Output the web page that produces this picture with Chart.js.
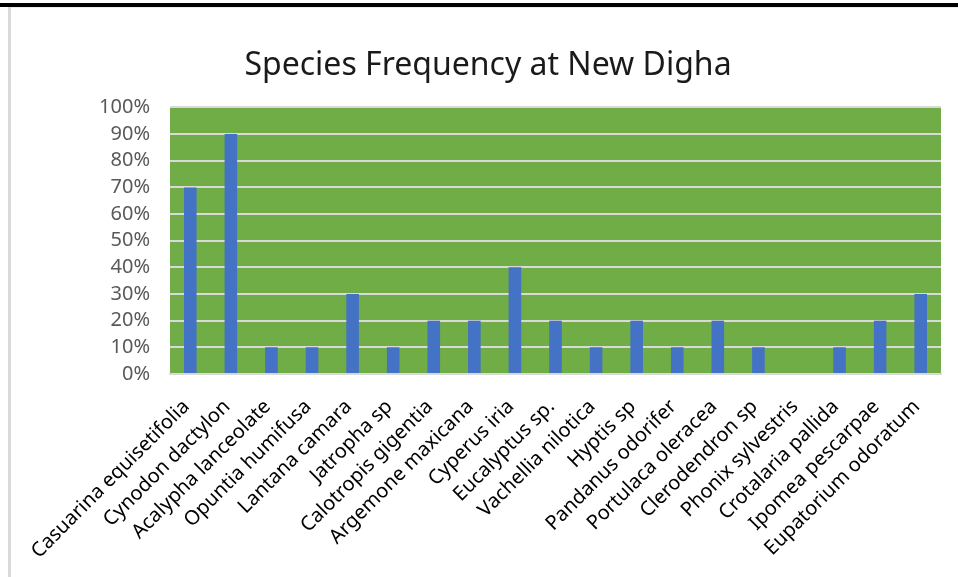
<!DOCTYPE html>
<html>
<head>
<meta charset="utf-8">
<script src="https://cdn.jsdelivr.net/npm/chart.js@4"></script>
<style>
  html, body { margin: 0; padding: 0; background: #ffffff; }
  #wrap { position: relative; width: 958px; height: 577px; }
  canvas { display: block; }
</style>
</head>
<body>
<div id="wrap"><canvas id="chart" width="958" height="577"></canvas></div>
<script>
// Species recorded at New Digha and their frequency (%)
const species = [
  'Casuarina equisetifolia', 'Cynodon dactylon', 'Acalypha lanceolate',
  'Opuntia humifusa', 'Lantana camara', 'Jatropha sp', 'Calotropis gigentia',
  'Argemone maxicana', 'Cyperus iria', 'Eucalyptus sp.', 'Vachellia nilotica',
  'Hyptis sp', 'Pandanus odorifer', 'Portulaca oleracea', 'Clerodendron sp',
  'Phonix sylvestris', 'Crotalaria pallida', 'Ipomea pescarpae', 'Eupatorium odoratum'
];
const frequency = [70, 90, 10, 10, 30, 10, 20, 20, 40, 20, 10, 20, 10, 20, 10, 0, 10, 20, 30];
const yTicks = [0, 10, 20, 30, 40, 50, 60, 70, 80, 90, 100];

const FONT = "'Noto Sans', 'Open Sans', sans-serif";

// Page frame lines and the green plot background
const framePlugin = {
  id: 'frame',
  beforeDraw(chart) {
    const { ctx, chartArea: a } = chart;
    ctx.save();
    ctx.fillStyle = '#000000';
    ctx.fillRect(0, 3, 958, 4);
    ctx.fillStyle = '#d9d9d9';
    ctx.fillRect(8, 7, 3, 570);
    ctx.fillStyle = '#ececec';
    ctx.fillRect(11, 7, 947, 1);
    ctx.fillStyle = '#70ad47';
    ctx.fillRect(a.left, a.top, a.right - a.left, a.bottom - a.top);
    ctx.restore();
  }
};

new Chart(document.getElementById('chart'), {
  type: 'bar',
  data: {
    labels: species,
    datasets: [{
      label: 'Frequency',
      data: frequency,
      backgroundColor: '#4472c4',
      borderWidth: 0,
      categoryPercentage: 1,
      barPercentage: 0.31
    }]
  },
  options: {
    responsive: false,
    animation: false,
    devicePixelRatio: 1,
    layout: { padding: { left: 35, right: 17, top: 0, bottom: 0 } },
    plugins: {
      legend: { display: false },
      tooltip: { enabled: false },
      title: {
        display: true,
        text: 'Species Frequency at New Digha',
        color: '#1a1a1a',
        font: { family: FONT, size: 32, weight: 'normal' },
        padding: { top: 47, bottom: 22 }
      }
    },
    scales: {
      x: {
        grid: { display: false, drawTicks: false },
        border: { display: true, color: '#d9d9d9', width: 2 },
        ticks: {
          color: '#000000',
          font: { family: FONT, size: 20 },
          minRotation: 45,
          maxRotation: 45,
          autoSkip: false,
          padding: 21,
          labelOffset: -4
        },
        afterFit(scale) {
          scale.height = 203;
          scale.paddingLeft = 0;
          scale.paddingRight = 0;
        }
      },
      y: {
        min: 0,
        max: 100,
        afterBuildTicks(scale) {
          scale.ticks = yTicks.map(v => ({ value: v }));
        },
        grid: { color: '#d9d9d9', lineWidth: 2, drawTicks: false },
        border: { display: false },
        ticks: {
          color: '#595959',
          font: { family: FONT, size: 20 },
          padding: 20,
          autoSkip: false,
          callback: v => v + '%'
        },
        afterFit(scale) {
          scale.width = 135;
        }
      }
    }
  },
  plugins: [framePlugin]
});
</script>
</body>
</html>
